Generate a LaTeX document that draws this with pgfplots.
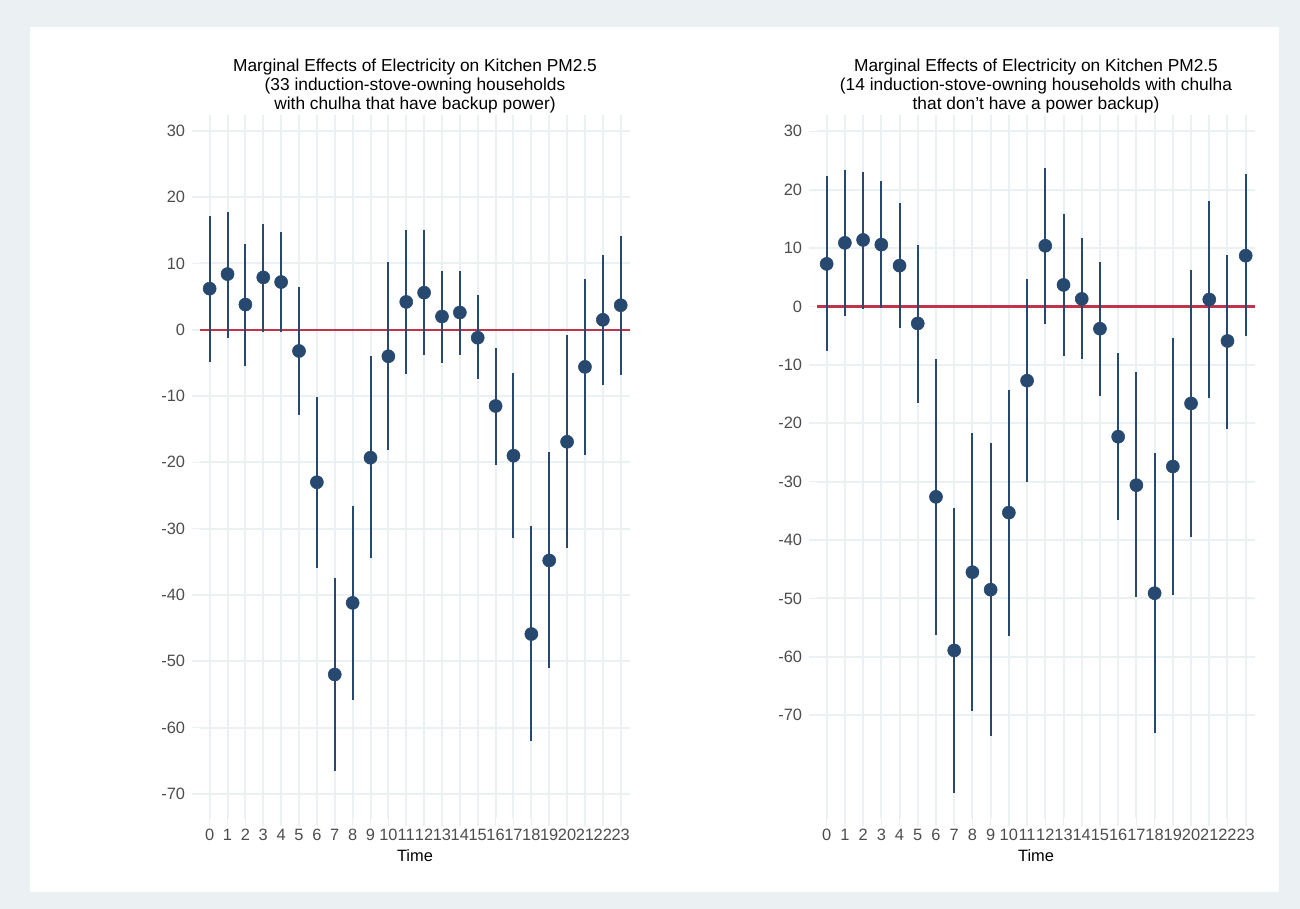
\documentclass[border=0pt]{standalone}
\usepackage{fontspec}
\setmainfont{Liberation Sans}
\usepackage{pgfplots}
\usepackage{pgfplotstable}
\pgfplotsset{compat=1.18}
\definecolor{bgcol}{HTML}{EBF0F3}
\definecolor{gridcol}{HTML}{EBF0F3}
\definecolor{navy}{HTML}{27496F}
\definecolor{redl}{HTML}{C0344A}
\definecolor{tickcol}{HTML}{4D4D4D}

\pgfplotstableread{
t est lo hi
0 6.2 -4.8 17.2
1 8.4 -1.2 17.7
2 3.8 -5.4 12.9
3 7.9 -0.3 16.0
4 7.2 -0.4 14.8
5 -3.2 -12.9 6.5
6 -23.0 -35.9 -10.1
7 -52.0 -66.5 -37.5
8 -41.2 -55.9 -26.6
9 -19.3 -34.5 -4.0
10 -4.0 -18.2 10.2
11 4.2 -6.7 15.0
12 5.6 -3.8 15.0
13 2.0 -5.0 8.9
14 2.6 -3.8 8.9
15 -1.2 -7.5 5.2
16 -11.5 -20.4 -2.7
17 -19.0 -31.4 -6.5
18 -45.9 -62.0 -29.6
19 -34.8 -51.0 -18.5
20 -16.9 -32.9 -0.8
21 -5.6 -18.9 7.7
22 1.5 -8.3 11.3
23 3.7 -6.8 14.1
}\leftdata

\pgfplotstableread{
t est lo hi
0 7.3 -7.7 22.3
1 10.9 -1.6 23.3
2 11.4 -0.4 23.1
3 10.6 -0.3 21.5
4 7.0 -3.7 17.7
5 -2.9 -16.5 10.6
6 -32.6 -56.3 -9.0
7 -58.9 -83.3 -34.5
8 -45.5 -69.2 -21.7
9 -48.5 -73.6 -23.4
10 -35.3 -56.4 -14.3
11 -12.7 -30.0 4.7
12 10.4 -3.0 23.7
13 3.7 -8.4 15.8
14 1.3 -9.0 11.7
15 -3.8 -15.3 7.6
16 -22.3 -36.5 -8.0
17 -30.6 -49.8 -11.3
18 -49.1 -73.0 -25.1
19 -27.4 -49.4 -5.4
20 -16.6 -39.4 6.2
21 1.2 -15.7 18.1
22 -5.9 -20.9 8.9
23 8.7 -5.1 22.7
}\rightdata

\pgfplotsset{
  me/.style={
    scale only axis,
    anchor=south west,
    height=527.25pt,
    axis line style={draw=none},
    grid=major,
    major grid style={gridcol, line width=1.5pt},
    tick style={gridcol, line width=1.2pt},
    tick align=outside,
    tick pos=left,
    major tick length=6pt,
    xtick={0,...,23},
    xticklabels={0,1,2,3,4,5,6,7,8,9,10,11,12,13,14,15,16,17,18,19,20,21,22,23},
    ytick={-70,-60,-50,-40,-30,-20,-10,0,10,20,30},
    yticklabels={-70,-60,-50,-40,-30,-20,-10,0,10,20,30},
    ticklabel style={font=\fontsize{12.3pt}{14pt}\selectfont, text=tickcol},
    xticklabel style={inner sep=0pt, yshift=-2pt},
    yticklabel style={inner sep=0pt, xshift=-5pt},
    xlabel={Time},
    xlabel style={font=\fontsize{12.3pt}{14pt}\selectfont, text=black, yshift=-3.5pt},
    title style={at={(0.5,1)}, anchor=south, yshift=-4.5pt, inner sep=0pt, align=center,
      font=\fontsize{13pt}{14.25pt}\selectfont},
    clip=false,
  },
  pts/.style={only marks, mark=*, mark size=4.9pt, navy,
    mark options={draw=navy, fill=navy},
    error bars/.cd, y dir=both, y explicit,
    error bar style={navy, line width=1.5pt}, error mark=none},
}

\begin{document}
\begin{tikzpicture}
\fill[bgcol] (0pt,0pt) rectangle (975pt,681.75pt);
\fill[white] (22.5pt,12.75pt) rectangle (959.25pt,661.5pt);

\begin{axis}[me,
  at={(150pt,68.25pt)}, width=322.5pt,
  xmin=-0.54, xmax=23.52, ymin=-73.65, ymax=32.4,
  title={Marginal Effects of Electricity on Kitchen PM2.5\\(33 induction-stove-owning households\\with chulha that have backup power)}]
\addplot[redl, line width=1.8pt] coordinates {(-0.54,0) (23.52,0)};
\addplot[pts] table[x=t, y=est, y error plus expr=\thisrow{hi}-\thisrow{est}, y error minus expr=\thisrow{est}-\thisrow{lo}] {\leftdata};
\end{axis}

\begin{axis}[me,
  at={(612.75pt,68.25pt)}, width=328.5pt,
  xmin=-0.53, xmax=23.51, ymin=-87.6, ymax=32.8,
  title={Marginal Effects of Electricity on Kitchen PM2.5\\(14 induction-stove-owning households with chulha\\that don't have a power backup)}]
\addplot[redl, line width=1.8pt] coordinates {(-0.53,0) (23.51,0)};
\addplot[pts] table[x=t, y=est, y error plus expr=\thisrow{hi}-\thisrow{est}, y error minus expr=\thisrow{est}-\thisrow{lo}] {\rightdata};
\end{axis}
\end{tikzpicture}
\end{document}
